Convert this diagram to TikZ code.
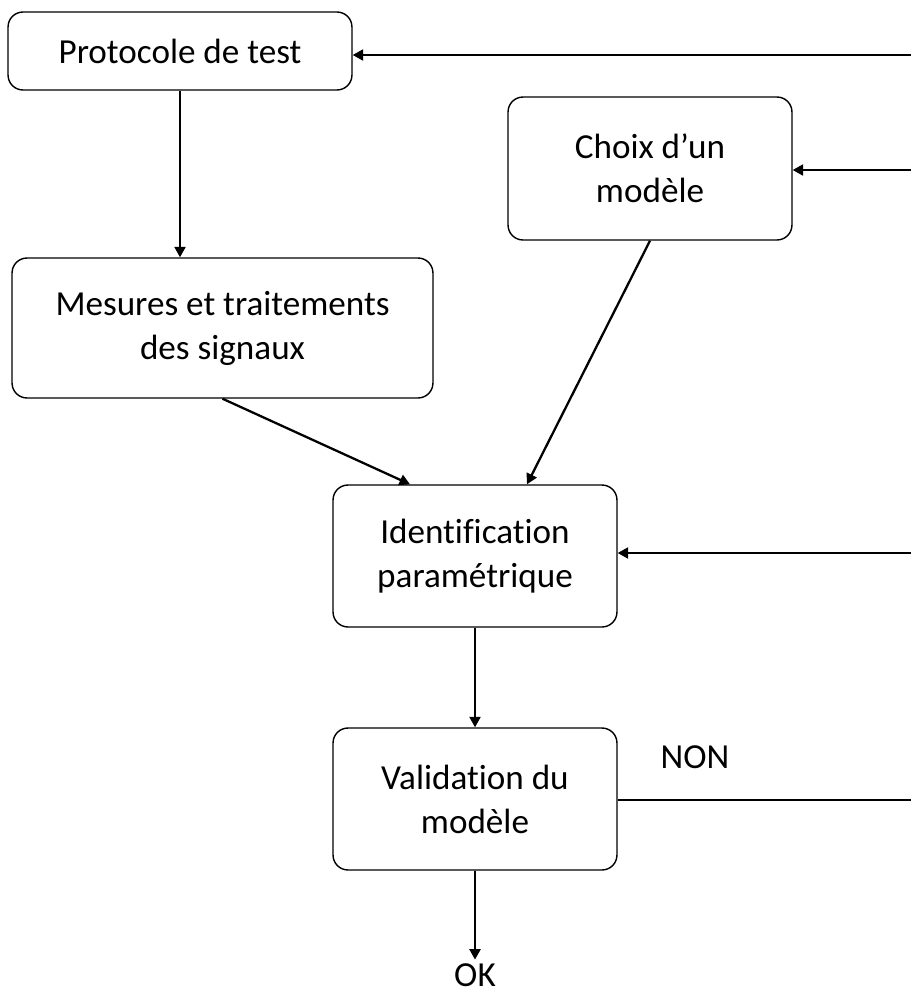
\documentclass[tikz,border=0pt]{standalone}
\usepackage{fontspec}
\setmainfont[Ligatures=NoCommon]{Carlito}
\usetikzlibrary{arrows.meta,calc}

\tikzset{
  etape/.style={draw, line width=0.8pt, rounded corners=0.3cm, align=center, font=\fontsize{20}{25}\selectfont, inner sep=0pt},
  etiq/.style={font=\fontsize{20}{25}\selectfont, inner sep=2pt},
  fleche/.style={line width=1.3pt, -{Triangle[length=0.21cm,width=0.22cm]}},
  trait/.style={line width=1.3pt}
}

\begin{document}
\begin{tikzpicture}[x=0.02cm, y=-0.02cm]
\useasboundingbox (0,0) rectangle (911,998);
% etapes
\node[etape, minimum width=6.88cm, minimum height=1.56cm] (proto) at (180,51) {Protocole de test};
\node[etape, minimum width=5.68cm, minimum height=2.86cm] (choix) at (650,168.5) {Choix d’un\\modèle};
\node[etape, minimum width=8.42cm, minimum height=2.8cm] (mesures) at (222.5,328) {Mesures et traitements\\des signaux};
\node[etape, minimum width=5.68cm, minimum height=2.84cm] (ident) at (475,556) {Identification\\paramétrique};
\node[etape, minimum width=5.68cm, minimum height=2.84cm] (valid) at (475,799) {Validation du\\modèle};
\node[etiq] (ok) at (475,975) {OK};
\node[etiq] (non) at (695,757) {NON};
% bord droit
\coordinate (r1) at (911,55);
\coordinate (r2) at (911,170);
\coordinate (r3) at (911,553);
\coordinate (r4) at (911,800);
% liaisons
\draw[fleche] (proto.south) -- (mesures.north -| proto.south);
\draw[fleche] (mesures.south) -- ($(ident.north)+(-65,0)$);
\draw[fleche] (choix.south) -- ($(ident.north)+(52,0)$);
\draw[fleche] (ident.south) -- (valid.north);
\draw[fleche] (valid.south) -- (ok.north);
\draw[trait] (valid.east |- r4) -- (r4);
\draw[fleche] (r3) -- (r3 -| ident.east);
\draw[fleche] (r2) -- (r2 -| choix.east);
\draw[fleche] (r1) -- (r1 -| proto.east);
\end{tikzpicture}
\end{document}
